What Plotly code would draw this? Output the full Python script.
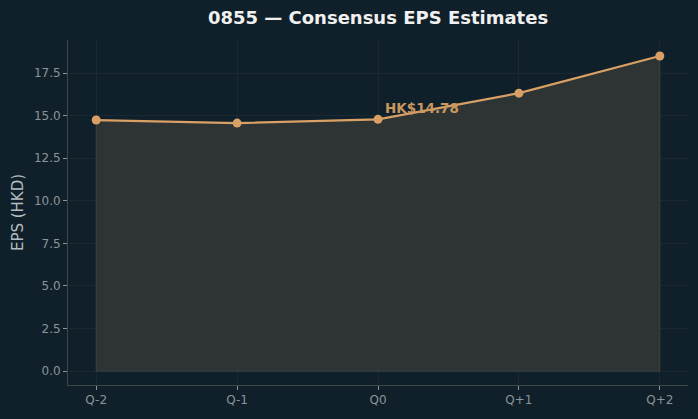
import plotly.graph_objects as go

categories = ["Q-2", "Q-1", "Q0", "Q+1", "Q+2"]
eps_values = [14.74, 14.56, 14.78, 16.32, 18.50]
y_ticks = [0.0, 2.5, 5.0, 7.5, 10.0, 12.5, 15.0, 17.5]
annot_label = "HK$14.78"
annot_index = 2

xs = list(range(len(categories)))
bg = "#10202a"
line_color = "#d9a066"

fig = go.Figure()
fig.add_trace(go.Scatter(
    x=xs + [xs[-1], xs[0], xs[0]],
    y=eps_values + [0, 0, eps_values[0]],
    fill="toself", fillcolor="#2e3434",
    line=dict(color="#3c4242", width=1),
    mode="lines", hoverinfo="skip", showlegend=False))
fig.add_trace(go.Scatter(
    x=xs, y=eps_values, mode="lines+markers",
    line=dict(color=line_color, width=2.2),
    marker=dict(color=line_color, size=9),
    showlegend=False))

fig.add_annotation(x=xs[annot_index], y=eps_values[annot_index], text="<b>" + annot_label + "</b>",
                   showarrow=False, xanchor="left", yanchor="bottom",
                   xshift=5, yshift=1,
                   font=dict(color="#c8975f", size=13.5, family="DejaVu Sans"))

fig.update_layout(
    width=698, height=419,
    paper_bgcolor=bg, plot_bgcolor=bg,
    margin=dict(l=68, r=10, t=40, b=34),
    title=dict(text="<b>0855 — Consensus EPS Estimates</b>", x=0.5, xref="paper", xanchor="center",
               y=0.957, yanchor="middle",
               font=dict(color="#f0f0f0", size=18, family="DejaVu Sans")),
    font=dict(family="DejaVu Sans", color="#8a9499", size=12),
    xaxis=dict(range=[-0.2, 4.2], tickvals=xs, ticktext=categories,
               showline=True, linecolor="#3d4647", linewidth=1,
               ticks="outside", ticklen=4, tickcolor="#8a9499",
               showgrid=True, gridcolor="rgba(255,255,255,0.04)", zeroline=False,
               tickfont=dict(size=12, color="#8a9499")),
    yaxis=dict(range=[-0.82, 19.44], tickvals=y_ticks,
               ticktext=[f"{v:.1f}" for v in y_ticks],
               showline=True, linecolor="#3d4647", linewidth=1,
               ticks="outside", ticklen=4, tickcolor="#8a9499",
               showgrid=True, gridcolor="rgba(255,255,255,0.04)", zeroline=False,
               title=dict(text="EPS (HKD)", font=dict(size=15, color="#b4bcbf"), standoff=6),
               tickfont=dict(size=12, color="#8a9499")),
)

fig.write_html("out.html")
